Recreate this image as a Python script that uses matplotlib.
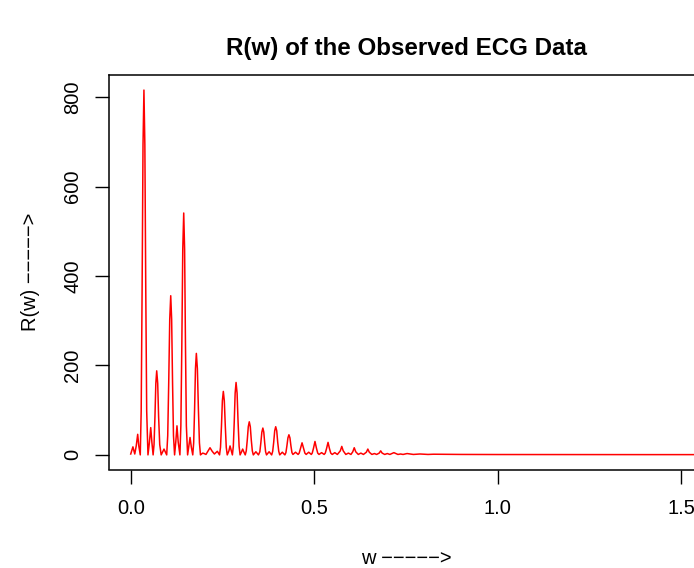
import matplotlib
matplotlib.use("Agg")
import matplotlib.pyplot as plt

# Frequency w and R(w) vertices (one row per lobe group)
w = [0.000, 0.006, 0.011,
     0.015, 0.019, 0.022, 0.026,
     0.0285, 0.031, 0.0335, 0.036, 0.0385, 0.041, 0.0435, 0.047,
     0.0508, 0.0545, 0.0578, 0.061,
     0.0635, 0.066, 0.0684, 0.0708, 0.0735, 0.076, 0.079, 0.083,
     0.0907, 0.098,
     0.1008, 0.1035, 0.1063, 0.109, 0.1115, 0.114, 0.1165, 0.1195,
     0.1228, 0.126, 0.1293, 0.134,
     0.1366, 0.1392, 0.1418, 0.1444, 0.1468, 0.1492, 0.1516, 0.155,
     0.158, 0.1616, 0.165, 0.169,
     0.1715, 0.174, 0.1764, 0.1788, 0.1816, 0.1844, 0.1872, 0.190,
     0.196, 0.200, 0.205, 0.210, 0.216, 0.222, 0.228, 0.236, 0.242,
     0.2446, 0.2472, 0.2497, 0.2523, 0.255, 0.2577, 0.2603, 0.263,
     0.2675, 0.2706, 0.274, 0.277,
     0.2795, 0.282, 0.2845, 0.287, 0.2898, 0.2925, 0.2953, 0.298,
     0.3015, 0.305, 0.3085, 0.312,
     0.3148, 0.3175, 0.3203, 0.323, 0.3258, 0.3285, 0.3313, 0.334,
     0.341, 0.348,
     0.3518, 0.3545, 0.3573, 0.360, 0.3625, 0.365, 0.3675, 0.370,
     0.377, 0.384,
     0.3868, 0.3895, 0.3923, 0.395, 0.3978, 0.4005, 0.4033, 0.406,
     0.413, 0.420,
     0.4228, 0.4255, 0.4283, 0.431, 0.4338, 0.4365, 0.4393, 0.442,
     0.449, 0.456,
     0.459, 0.4625, 0.4668, 0.471, 0.4745, 0.478,
     0.485, 0.492,
     0.4945, 0.498, 0.502, 0.506, 0.5095, 0.513,
     0.520, 0.527,
     0.530, 0.5335, 0.5376, 0.5415, 0.545, 0.549,
     0.556, 0.563,
     0.571, 0.575, 0.579, 0.586,
     0.593, 0.600,
     0.605, 0.609, 0.613, 0.620,
     0.627, 0.634,
     0.642, 0.646, 0.650, 0.657,
     0.664, 0.670,
     0.677, 0.681, 0.685, 0.692,
     0.699, 0.706, 0.717, 0.728, 0.735, 0.742, 0.753, 0.770, 0.788, 0.810,
     0.825, 0.860, 0.900, 0.950, 1.000, 1.100, 1.200, 1.300, 1.400, 1.560]
R = [2, 18, 2,
     20, 46, 20, 0,
     98, 367, 694, 816, 694, 367, 98, 0,
     27, 61, 27, 0,
     23, 85, 160, 188, 160, 85, 23, 0,
     13, 0,
     43, 160, 303, 356, 303, 160, 43, 0,
     29, 65, 29, 0,
     65, 243, 460, 541, 460, 243, 65, 0,
     18, 39, 18, 0,
     27, 102, 193, 227, 193, 102, 27, 0,
     4, 3, 1, 8, 16, 8, 2, 8, 0,
     17, 64, 121, 142, 121, 64, 17, 0,
     9, 20, 9, 0,
     19, 73, 138, 162, 138, 73, 19, 0,
     6, 13, 6, 0,
     9, 33, 63, 74, 63, 33, 9, 0,
     7, 0,
     7, 27, 51, 60, 51, 27, 7, 0,
     7, 0,
     8, 28, 54, 63, 54, 28, 8, 0,
     6, 0,
     5, 20, 38, 45, 38, 20, 5, 1,
     6, 1,
     4, 14, 27, 14, 4, 1,
     6, 1,
     4, 15, 30, 15, 4, 1,
     5, 1,
     4, 14, 28, 14, 4, 1,
     5, 1,
     9, 19, 9, 1,
     4, 1,
     7, 16, 7, 1,
     4, 1,
     6, 13, 6, 1,
     3, 1,
     4, 9, 4, 1,
     3, 1, 5, 1, 2, 1, 3, 1, 2, 1,
     1.5, 1.2, 1.0, 0.8, 0.8, 0.7, 0.7, 0.6, 0.6, 0.6]

x_ticks = [0.0, 0.5, 1.0, 1.5]
x_ticklabels = ["0.0", "0.5", "1.0", "1.5"]
y_ticks = [0, 200, 400, 600, 800]
y_ticklabels = ["0", "200", "400", "600", "800"]

W, H = 694, 568
fig = plt.figure(figsize=(W / 100, H / 100), dpi=100)
plt.rcParams['font.family'] = ['Liberation Sans', 'DejaVu Sans']

left_px, right_px, top_px, bottom_px = 108.7, 703.3, 75.0, 469.5
ax = fig.add_axes([left_px / W, 1 - bottom_px / H,
                   (right_px - left_px) / W, (bottom_px - top_px) / H])
ax.plot(w, R, color='red', lw=1.1)

ax.set_xlim(-0.06, 1.56)
ymin, ymax = 0, 817
pad = 0.04 * (ymax - ymin)
ax.set_ylim(ymin - pad, ymax + pad)

ax.set_xticks(x_ticks)
ax.set_xticklabels(x_ticklabels)
ax.set_yticks(y_ticks)
ax.set_yticklabels(y_ticklabels, rotation=90, va='center')

for s in ax.spines.values():
    s.set_linewidth(1.1)
    s.set_color('black')
ax.tick_params(axis='both', length=10, width=1.0, labelsize=14.5, colors='black')
ax.tick_params(axis='x', pad=11)
ax.tick_params(axis='y', pad=9)

fig.text(406 / W, 1 - 48 / H, "R(w) of the Observed ECG Data",
         ha='center', va='center', fontsize=17.4, fontweight='bold')
fig.text(406 / W, 1 - 558 / H, "w \u2212\u2212\u2212\u2212\u2212>",
         ha='center', va='center', fontsize=14.5)
fig.text(30 / W, 1 - 272 / H, "R(w) \u2212\u2212\u2212\u2212\u2212>",
         ha='center', va='center', fontsize=14.5, rotation=90)

fig.savefig("out.png", dpi=100)
